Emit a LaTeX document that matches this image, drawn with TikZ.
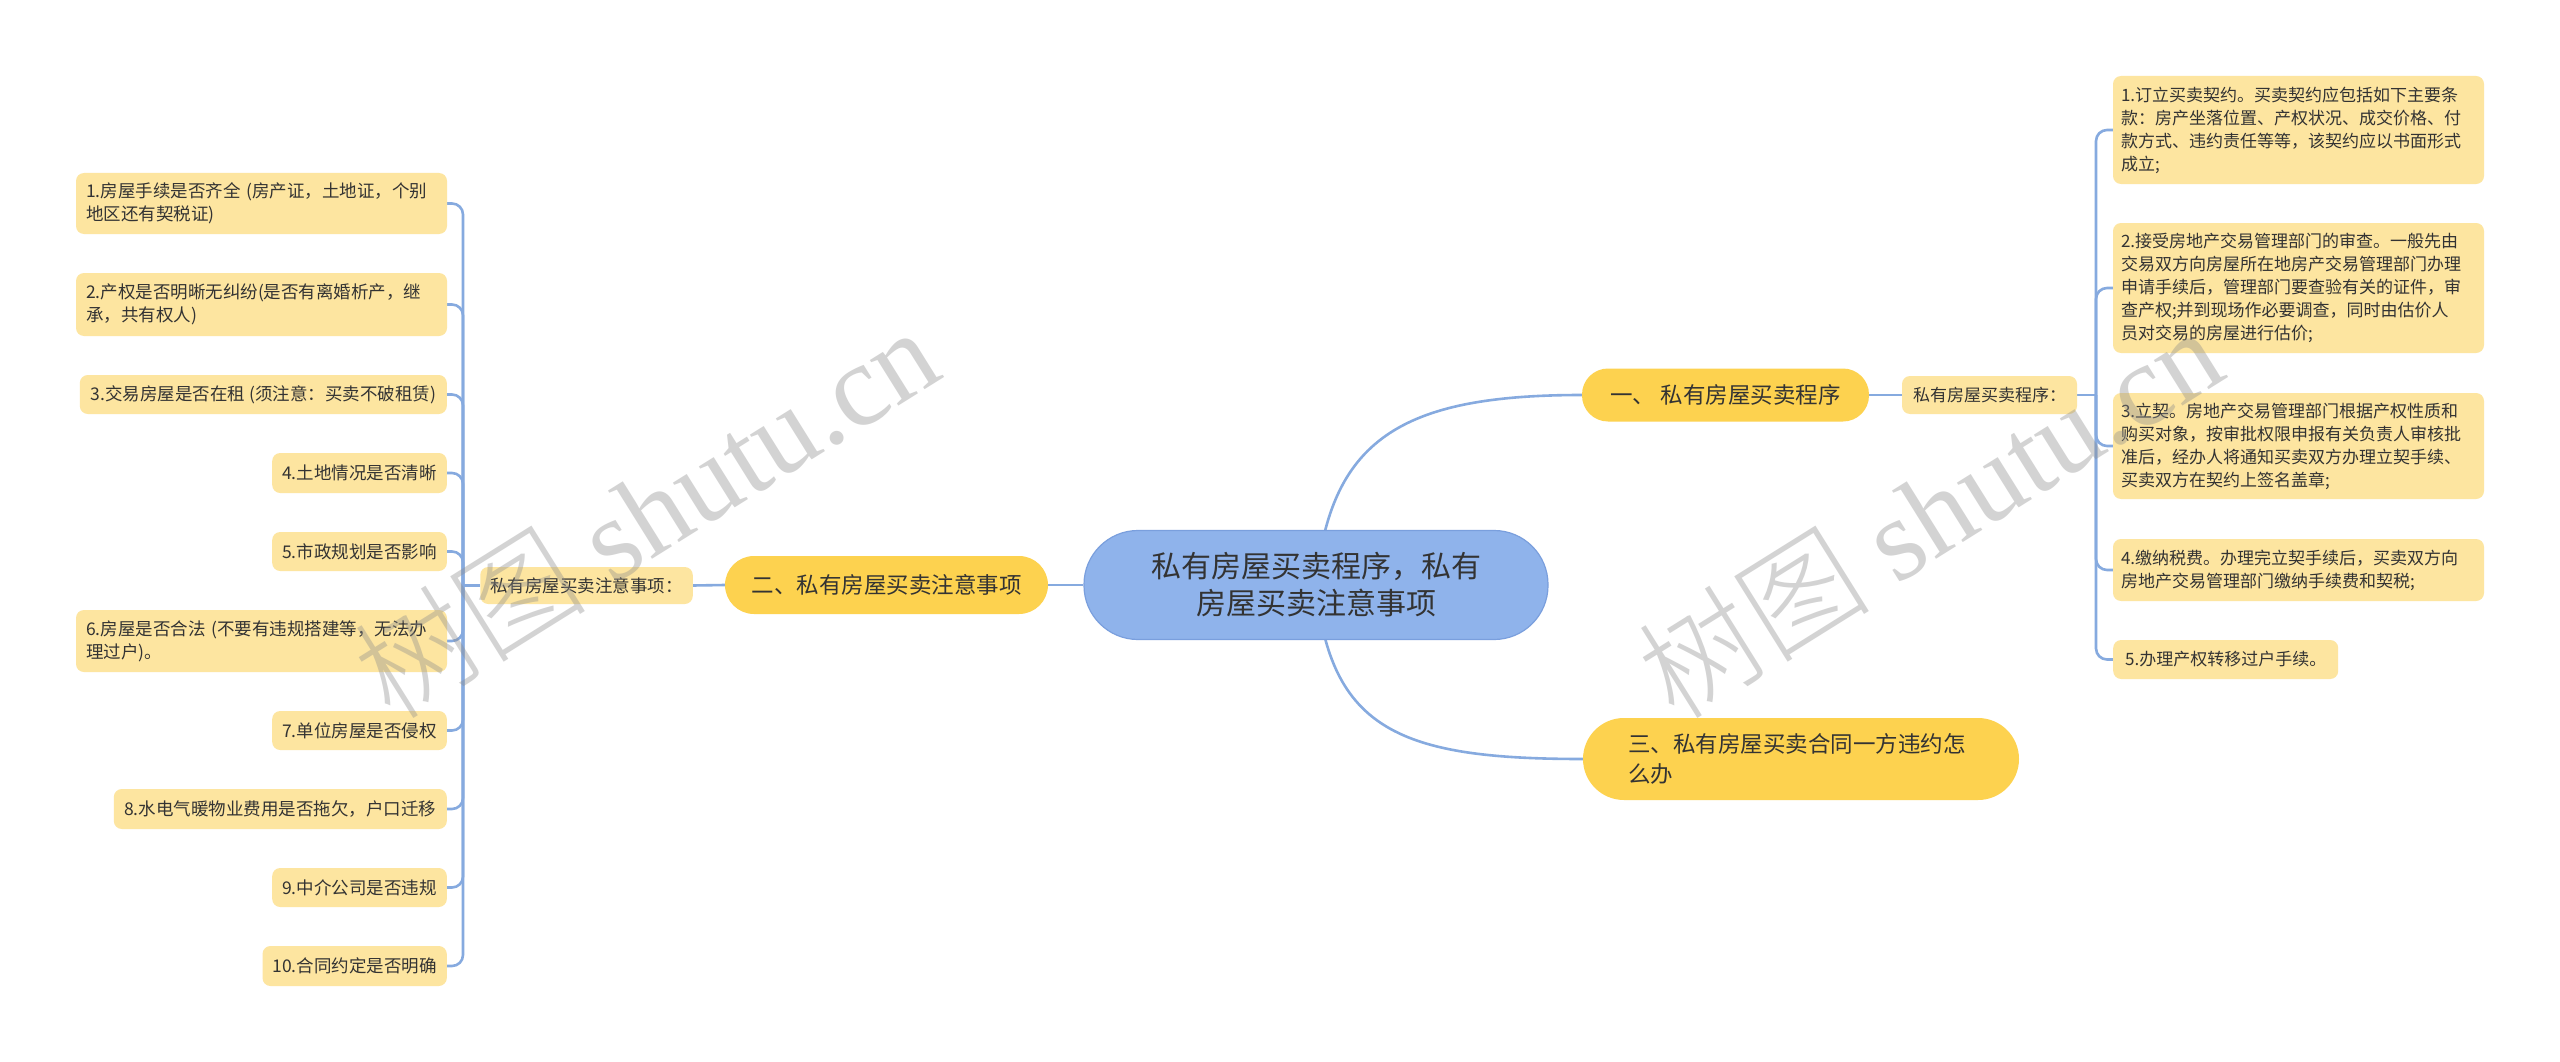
\documentclass[tikz,border=0pt]{standalone}
\usepackage{fontspec}
\setmainfont{Noto Sans CJK SC}
\newfontfamily\wmserif{Liberation Serif}
\newfontfamily\wmsans{Noto Sans CJK SC Light}
\usetikzlibrary{backgrounds}
\definecolor{leafc}{HTML}{FDE5A0}
\definecolor{primc}{HTML}{FDD24F}
\definecolor{cfill}{HTML}{8FB3EB}
\definecolor{cdraw}{HTML}{7A9FDD}
\definecolor{cline}{HTML}{86AADF}
\definecolor{txt}{HTML}{333333}
\tikzset{
  leaf/.style={fill=leafc, rounded corners=8pt, text=txt, inner xsep=10pt, inner ysep=0pt,
    font=\fontsize{17.5}{23}\selectfont, align=left},
  rleaf/.style={leaf, inner xsep=8pt, font=\fontsize{17}{23}\selectfont},
  prim/.style={fill=primc, text=txt, inner ysep=0pt, font=\fontsize{22.5}{30}\selectfont},
  cnode/.style={fill=cfill, draw=cdraw, line width=1.2pt, text=txt, rounded corners=54pt,
    font=\fontsize{30}{37}\selectfont, align=center},
  conn/.style={draw=cline, line width=2.6pt, rounded corners=11pt},
  wm/.style={text=black!45, text opacity=0.38, font=\fontsize{117}{117}\selectfont}
}
\begin{document}
\begin{tikzpicture}[x=1pt,y=-1pt]
\useasboundingbox (0,0) rectangle (2560,1062);
\begin{pgfonlayer}{background}
\fill[white] (0,0) rectangle (2560,1062);
\end{pgfonlayer}

% center
\node[cnode, minimum width=464pt, minimum height=109pt] (c) at (1316,585) {私有房屋买卖程序，私有\\房屋买卖注意事项};

% primary nodes
\node[prim, rounded corners=29pt, minimum width=323pt, minimum height=58pt] (n2) at (886.5,585) {二、私有房屋买卖注意事项};
\node[prim, rounded corners=26pt, minimum width=287pt, minimum height=53pt] (n1) at (1725.5,395) {一、 私有房屋买卖程序};
\node[prim, rounded corners=41pt, inner xsep=45pt, text width=346pt, align=left, minimum height=82pt] (n3) at (1801,759) {三、私有房屋买卖合同一方违约怎\\么办};

% labels
\node[leaf, align=center, minimum width=209pt, minimum height=37pt] (ll) at (586.5,585.5) {私有房屋买卖注意事项：};
\node[rleaf, align=center, minimum width=175pt, minimum height=38pt] (lr) at (1989.5,395) {私有房屋买卖程序：};

% left leaves
\node[leaf, text width=351pt, minimum height=61pt] (l1) at (261.5,203.5) {1.房屋手续是否齐全 (房产证，土地证，个别\\地区还有契税证)};
\node[leaf, text width=351pt, minimum height=63pt] (l2) at (261.5,304.5) {2.产权是否明晰无纠纷(是否有离婚析产，继\\承，共有权人)};
\node[leaf, anchor=east, minimum width=367pt, minimum height=39pt] (l3) at (447,394.5) {3.交易房屋是否在租 (须注意：买卖不破租赁)};
\node[leaf, anchor=east, minimum width=174pt, minimum height=40pt] (l4) at (447,473) {4.土地情况是否清晰};
\node[leaf, anchor=east, minimum width=174pt, minimum height=39pt] (l5) at (447,551.5) {5.市政规划是否影响};
\node[leaf, text width=351pt, minimum height=62pt] (l6) at (261.5,641) {6.房屋是否合法 (不要有违规搭建等，无法办\\理过户)。};
\node[leaf, anchor=east, minimum width=174pt, minimum height=39pt] (l7) at (447,730.5) {7.单位房屋是否侵权};
\node[leaf, anchor=east, minimum width=333pt, minimum height=40pt] (l8) at (447,809) {8.水电气暖物业费用是否拖欠，户口迁移};
\node[leaf, anchor=east, minimum width=174pt, minimum height=39pt] (l9) at (447,887.5) {9.中介公司是否违规};
\node[leaf, anchor=east, minimum width=184pt, minimum height=40pt] (l10) at (447,966) {10.合同约定是否明确};

% right leaves
\node[rleaf, text width=355pt, minimum height=108pt] (r1) at (2298.5,130) {1.订立买卖契约。买卖契约应包括如下主要条\\款：房产坐落位置、产权状况、成交价格、付\\款方式、违约责任等等，该契约应以书面形式\\成立;};
\node[rleaf, text width=355pt, minimum height=130pt] (r2) at (2298.5,288) {2.接受房地产交易管理部门的审查。一般先由\\交易双方向房屋所在地房产交易管理部门办理\\申请手续后，管理部门要查验有关的证件，审\\查产权;并到现场作必要调查，同时由估价人\\员对交易的房屋进行估价;};
\node[rleaf, text width=355pt, minimum height=106pt] (r3) at (2298.5,446) {3.立契。房地产交易管理部门根据产权性质和\\购买对象，按审批权限申报有关负责人审核批\\准后，经办人将通知买卖双方办理立契手续、\\买卖双方在契约上签名盖章;};
\node[rleaf, text width=355pt, minimum height=62pt] (r4) at (2298.5,570) {4.缴纳税费。办理完立契手续后，买卖双方向\\房地产交易管理部门缴纳手续费和契税;};
\node[rleaf, anchor=west, minimum width=225pt, minimum height=39pt] (r5) at (2113,659.5) {5.办理产权转移过户手续。};

\coordinate (jl) at (463,585.5);
\coordinate (jr) at (2096,395);

\begin{pgfonlayer}{background}
\foreach \n in {l1,l2,l3,l4,l5,l6,l7,l8,l9,l10}
  \draw[conn] (\n.east) -- (\n.east -| jl) -- (jl);
\foreach \n in {r1,r2,r3,r4,r5}
  \draw[conn] (\n.west) -- (\n.west -| jr) -- (jr);
\draw[conn] (ll.west) -- (jl);
\draw[conn] (ll.east) -- (n2.west);
\draw[conn] (n2.east) -- (c.west);
\draw[conn] (c.center) .. controls (1330,440) and (1400,395) .. (n1.west);
\draw[conn] (c.center) .. controls (1330,730) and (1400,759) .. (n3.west);
\draw[conn] (n1.east) -- (lr.west);
\draw[conn] (lr.east) -- (jr);
\end{pgfonlayer}

% watermarks
\node[wm, rotate=32] (wm1) at (645,512) {{\wmsans 树图} {\wmserif shutu.cn}};
\node[wm, rotate=32] (wm2) at (1929,512) {{\wmsans 树图} {\wmserif shutu.cn}};
\end{tikzpicture}
\end{document}
